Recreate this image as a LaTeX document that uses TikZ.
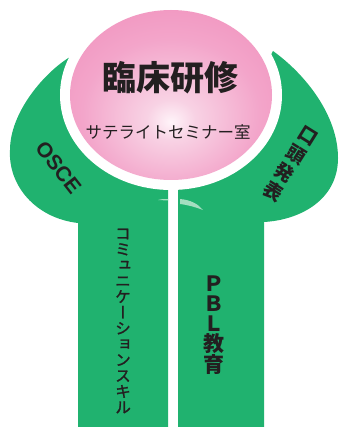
\documentclass[tikz,border=0pt]{standalone}
\usepackage{fontspec}
\setmainfont{Liberation Sans}
\newfontfamily\cjk{Noto Sans CJK JP}
\newfontfamily\cjkv{Noto Sans CJK JP}[RawFeature=+vert]
\newfontfamily\cjkvm{Noto Sans CJK JP}[RawFeature=+vert, FakeBold=1.4]
\definecolor{leafgreen}{RGB}{32,178,111}
\definecolor{leaflight}{RGB}{165,222,192}
\definecolor{txt}{RGB}{35,31,32}
\definecolor{pinkA}{RGB}{255,244,249}
\definecolor{pinkB}{RGB}{248,210,228}
\definecolor{pinkC}{RGB}{243,165,202}
\definecolor{pinkD}{RGB}{240,140,185}
\pgfdeclareradialshading{pinkglow}{\pgfpoint{0bp}{-8bp}}{color(0bp)=(pinkA); color(6bp)=(pinkB); color(22bp)=(pinkC); color(40bp)=(pinkD); color(70bp)=(pinkD)}
\begin{document}
\begin{tikzpicture}[x=1pt,y=-1pt,
  leaf/.style={fill=leafgreen},
  label/.style={text=txt, inner sep=0pt},
  vtext/.style={label, align=center}]
\useasboundingbox (0,0) rectangle (340,427);
% left leaf and trunk
\fill[leaf] (70,57) .. controls (45,72) and (10,112) .. (10,150)
  .. controls (8,185) and (35,218) .. (78,223) -- (78,427) -- (168,427)
  -- (168,188) -- (120,150) -- cycle;
% right leaf and trunk
\fill[leaf] (273,51) .. controls (305,74) and (338,115) .. (338,158)
  .. controls (338,200) and (300,220) .. (264,222) -- (264,427) -- (178,427)
  -- (178,188) -- (220,150) -- cycle;
% white ring
\fill[white] (171,95) ellipse [x radius=111pt, y radius=95pt];
% highlights
\fill[leaflight] (180,199) .. controls (191,200) and (198,204) .. (203,210)
  .. controls (195,207) and (188,205) .. (180,204) -- cycle;
\fill[leaflight] (158,200) .. controls (162,199) .. (168,199) -- (168,200.5)
  .. controls (163,200.5) .. (158,200) -- cycle;
% pink circle
\shade[shading=pinkglow] (171,95) ellipse [x radius=101pt, y radius=85pt];
% texts
\node[label, font=\cjk\bfseries\fontsize{34}{34}\selectfont] (title) at (170,78) {臨床研修};
\node[label, font=\cjk\fontsize{16.5}{16.5}\selectfont] (sub) at (168,132) {サテライトセミナー室};
\node[label, font=\bfseries\fontsize{21}{21}\selectfont, rotate=-52] (osce) at (58.5,167.5) {OSCE};
\node[vtext, font=\cjkv\bfseries\fontsize{19}{22}\selectfont, rotate=-32] (oral) at (290,164) {口\\頭\\発\\表};
\node[vtext, font=\cjkvm\fontsize{15.8}{15.8}\selectfont] (comm) at (123,321) {コ\\ミ\\ュ\\ニ\\ケ\\ー\\シ\\ョ\\ン\\ス\\キ\\ル};
\node[vtext, font=\cjkv\bfseries\fontsize{21}{20}\selectfont] (pbl) at (214,325) {Ｐ\\Ｂ\\Ｌ\\教\\育};
\end{tikzpicture}
\end{document}
